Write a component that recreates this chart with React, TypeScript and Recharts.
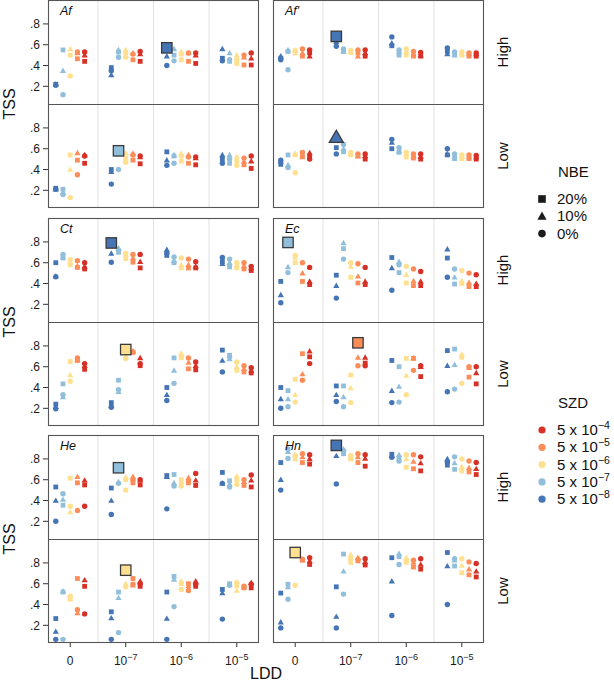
import React from 'react';
import { ScatterChart, Scatter, XAxis, YAxis, ReferenceLine } from 'recharts';

// SZD colours, from 5 x 10^-8 (blue) up to 5 x 10^-4 (red)
const SZD_COLORS = ['#4575b4', '#91bfdb', '#fee090', '#fc8d59', '#d73027'];
const SZD_EXP = ['−8', '−7', '−6', '−5', '−4'];
const NBE_LABELS = ['20%', '10%', '0%'];
const LDD_BASE = ['0', '10', '10', '10'];
const LDD_EXP = ['', '−7', '−6', '−5'];
const TSS_TICKS = [0.2, 0.4, 0.6, 0.8];
const PRESSURE = ['High', 'Low'];

// each grid: rows = LDD (0, 1e-7, 1e-6, 1e-5), cols = SZD (5e-8 .. 5e-4)
// Sq = NBE 20%, Tri = NBE 10%, Ci = NBE 0%
const afHighSq = [[0.22, 0.55, 0.5, 0.465, 0.44], [0.38, 0.53, 0.52, 0.455, 0.44], [0.57, 0.5, 0.455, 0.44, 0.42], [0.47, 0.44, 0.42, 0.405, 0.405]];
const afHighTri = [[0.22, 0.35, 0.56, 0.52, 0.5], [0.31, 0.55, 0.55, 0.52, 0.51], [0.49, 0.56, 0.535, 0.52, 0.5], [0.56, 0.52, 0.5, 0.48, 0.47]];
const afHighCi = [[0.21, 0.12, 0.3, 0.53, 0.53], [0.35, 0.48, 0.48, 0.51, 0.535], [0.4, 0.445, 0.51, 0.52, 0.52], [0.445, 0.455, 0.455, 0.5, 0.52]];
const afLowSq = [[0.22, 0.21, 0.54, 0.49, 0.46], [0.4, 0.58, 0.51, 0.49, 0.455], [0.57, 0.53, 0.48, 0.46, 0.445], [0.5, 0.46, 0.48, 0.445, 0.41]];
const afLowTri = [[0.21, 0.18, 0.4, 0.56, 0.54], [0.38, 0.55, 0.56, 0.555, 0.52], [0.49, 0.54, 0.555, 0.54, 0.51], [0.54, 0.54, 0.525, 0.48, 0.48]];
const afLowCi = [[0.21, 0.16, 0.13, 0.35, 0.53], [0.26, 0.4, 0.47, 0.54, 0.53], [0.44, 0.46, 0.53, 0.52, 0.52], [0.46, 0.5, 0.44, 0.51, 0.53]];

const afpHighSq = [[0.47, 0.535, 0.52, 0.49, 0.52], [0.68, 0.535, 0.525, 0.52, 0.49], [0.59, 0.5, 0.5, 0.49, 0.49], [0.535, 0.51, 0.5, 0.49, 0.49]];
const afpHighTri = [[0.49, 0.55, 0.545, 0.52, 0.49], [0.63, 0.535, 0.535, 0.49, 0.52], [0.615, 0.535, 0.535, 0.51, 0.5], [0.51, 0.5, 0.51, 0.51, 0.51]];
const afpHighCi = [[0.455, 0.36, 0.545, 0.56, 0.55], [0.585, 0.56, 0.545, 0.55, 0.55], [0.675, 0.55, 0.56, 0.535, 0.525], [0.57, 0.53, 0.53, 0.52, 0.52]];
const afpLowSq = [[0.45, 0.54, 0.54, 0.53, 0.53], [0.61, 0.57, 0.54, 0.53, 0.5], [0.6, 0.565, 0.52, 0.51, 0.5], [0.54, 0.505, 0.505, 0.505, 0.5]];
const afpLowTri = [[0.48, 0.445, 0.555, 0.52, 0.56], [0.71, 0.6, 0.555, 0.53, 0.53], [0.66, 0.58, 0.55, 0.53, 0.525], [0.55, 0.53, 0.525, 0.52, 0.52]];
const afpLowCi = [[0.49, 0.42, 0.37, 0.565, 0.5], [0.55, 0.64, 0.565, 0.55, 0.55], [0.69, 0.61, 0.565, 0.55, 0.55], [0.6, 0.55, 0.54, 0.54, 0.535]];

const ctHighSq = [[0.6, 0.645, 0.58, 0.555, 0.54], [0.79, 0.7, 0.64, 0.605, 0.55], [0.67, 0.6, 0.55, 0.55, 0.55], [0.61, 0.56, 0.55, 0.54, 0.525]];
const ctHighTri = [[0.47, 0.66, 0.61, 0.57, 0.565], [0.69, 0.74, 0.68, 0.645, 0.61], [0.725, 0.62, 0.58, 0.58, 0.565], [0.59, 0.6, 0.58, 0.57, 0.55]];
const ctHighCi = [[0.465, 0.68, 0.63, 0.62, 0.6], [0.605, 0.72, 0.69, 0.68, 0.68], [0.69, 0.655, 0.645, 0.635, 0.61], [0.65, 0.635, 0.6, 0.6, 0.565]];
const ctLowSq = [[0.24, 0.435, 0.65, 0.66, 0.575], [0.255, 0.47, 0.765, 0.74, 0.61], [0.4, 0.685, 0.685, 0.58, 0.57], [0.76, 0.71, 0.565, 0.55, 0.54]];
const ctLowTri = [[0.215, 0.31, 0.52, 0.67, 0.61], [0.23, 0.36, 0.7, 0.75, 0.685], [0.33, 0.565, 0.73, 0.64, 0.61], [0.66, 0.675, 0.6, 0.58, 0.565]];
const ctLowCi = [[0.195, 0.33, 0.46, 0.685, 0.63], [0.21, 0.38, 0.68, 0.74, 0.63], [0.275, 0.44, 0.7, 0.685, 0.645], [0.55, 0.695, 0.645, 0.61, 0.59]];

const ecHighSq = [[0.42, 0.795, 0.6, 0.42, 0.39], [0.48, 0.735, 0.46, 0.405, 0.39], [0.65, 0.505, 0.405, 0.38, 0.38], [0.645, 0.395, 0.4, 0.37, 0.37]];
const ecHighTri = [[0.29, 0.56, 0.65, 0.5, 0.42], [0.38, 0.79, 0.565, 0.47, 0.42], [0.55, 0.61, 0.485, 0.425, 0.42], [0.73, 0.46, 0.425, 0.41, 0.4]];
const ecHighCi = [[0.215, 0.505, 0.67, 0.6, 0.555], [0.26, 0.635, 0.6, 0.59, 0.555], [0.335, 0.58, 0.565, 0.54, 0.515], [0.46, 0.54, 0.525, 0.5, 0.485]];
const ecLowSq = [[0.4, 0.37, 0.48, 0.725, 0.695], [0.415, 0.415, 0.52, 0.83, 0.635], [0.66, 0.6, 0.68, 0.68, 0.505], [0.755, 0.77, 0.69, 0.5, 0.435]];
const ecLowTri = [[0.29, 0.29, 0.33, 0.53, 0.75], [0.33, 0.31, 0.395, 0.69, 0.69], [0.37, 0.41, 0.515, 0.685, 0.6], [0.61, 0.62, 0.72, 0.59, 0.54]];
const ecLowCi = [[0.2, 0.215, 0.26, 0.47, 0.63], [0.265, 0.215, 0.255, 0.61, 0.61], [0.255, 0.26, 0.33, 0.565, 0.61], [0.36, 0.385, 0.44, 0.6, 0.6]];

const heHighSq = [[0.53, 0.355, 0.615, 0.57, 0.55], [0.52, 0.715, 0.6, 0.57, 0.55], [0.64, 0.65, 0.6, 0.57, 0.545], [0.67, 0.59, 0.6, 0.545, 0.53]];
const heHighTri = [[0.4, 0.41, 0.29, 0.63, 0.595], [0.4, 0.58, 0.625, 0.63, 0.595], [0.63, 0.57, 0.58, 0.62, 0.595], [0.565, 0.56, 0.635, 0.58, 0.595]];
const heHighCi = [[0.2, 0.465, 0.345, 0.305, 0.345], [0.265, 0.565, 0.5, 0.6, 0.6], [0.32, 0.54, 0.54, 0.585, 0.66], [0.565, 0.53, 0.555, 0.6, 0.645]];
const heLowSq = [[0.265, 0.52, 0.465, 0.65, 0.575], [0.33, 0.52, 0.73, 0.65, 0.575], [0.52, 0.67, 0.6, 0.6, 0.575], [0.545, 0.6, 0.58, 0.56, 0.56]];
const heLowTri = [[0.14, 0.53, 0.45, 0.32, 0.635], [0.27, 0.465, 0.6, 0.585, 0.625], [0.265, 0.64, 0.625, 0.58, 0.625], [0.51, 0.59, 0.535, 0.57, 0.61]];
const heLowCi = [[0.065, 0.065, 0.48, 0.35, 0.31], [0.065, 0.13, 0.57, 0.595, 0.6], [0.065, 0.38, 0.545, 0.535, 0.595], [0.26, 0.585, 0.61, 0.575, 0.595]];

const hnHighSq = [[0.765, 0.895, 0.8, 0.765, 0.75], [0.93, 0.85, 0.8, 0.765, 0.73], [0.845, 0.81, 0.72, 0.705, 0.685], [0.74, 0.7, 0.685, 0.675, 0.65]];
const hnHighTri = [[0.6, 0.87, 0.845, 0.82, 0.8], [0.83, 0.895, 0.815, 0.82, 0.805], [0.83, 0.84, 0.8, 0.775, 0.76], [0.8, 0.76, 0.725, 0.715, 0.705]];
const hnHighCi = [[0.5, 0.805, 0.83, 0.85, 0.84], [0.56, 0.88, 0.83, 0.85, 0.84], [0.815, 0.78, 0.84, 0.84, 0.82], [0.77, 0.82, 0.8, 0.78, 0.765]];
const hnLowSq = [[0.51, 0.595, 0.9, 0.825, 0.785], [0.57, 0.885, 0.805, 0.82, 0.78], [0.85, 0.86, 0.805, 0.76, 0.74], [0.9, 0.77, 0.705, 0.685, 0.665]];
const hnLowTri = [[0.23, 0.57, 0.87, 0.83, 0.82], [0.285, 0.72, 0.88, 0.85, 0.81], [0.625, 0.89, 0.85, 0.805, 0.785], [0.77, 0.825, 0.775, 0.74, 0.72]];
const hnLowCi = [[0.175, 0.45, 0.585, 0.835, 0.85], [0.175, 0.5, 0.835, 0.83, 0.84], [0.295, 0.785, 0.82, 0.825, 0.84], [0.4, 0.84, 0.84, 0.81, 0.795]];

// best combination per panel: [nbe, ldd, szd]
const BEST = {
  afHigh: [0, 2, 0], afLow: [0, 1, 1],
  afpHigh: [0, 1, 0], afpLow: [1, 1, 0],
  ctHigh: [0, 1, 0], ctLow: [0, 1, 2],
  ecHigh: [0, 0, 1], ecLow: [0, 1, 3],
  heHigh: [0, 1, 1], heLow: [0, 1, 2],
  hnHigh: [0, 1, 0], hnLow: [0, 0, 2],
};

const SPECIES = [
  { name: 'Af', col: 0, row: 0, grids: [[afHighSq, afHighTri, afHighCi], [afLowSq, afLowTri, afLowCi]], best: [BEST.afHigh, BEST.afLow] },
  { name: "Af'", col: 1, row: 0, grids: [[afpHighSq, afpHighTri, afpHighCi], [afpLowSq, afpLowTri, afpLowCi]], best: [BEST.afpHigh, BEST.afpLow] },
  { name: 'Ct', col: 0, row: 1, grids: [[ctHighSq, ctHighTri, ctHighCi], [ctLowSq, ctLowTri, ctLowCi]], best: [BEST.ctHigh, BEST.ctLow] },
  { name: 'Ec', col: 1, row: 1, grids: [[ecHighSq, ecHighTri, ecHighCi], [ecLowSq, ecLowTri, ecLowCi]], best: [BEST.ecHigh, BEST.ecLow] },
  { name: 'He', col: 0, row: 2, grids: [[heHighSq, heHighTri, heHighCi], [heLowSq, heLowTri, heLowCi]], best: [BEST.heHigh, BEST.heLow] },
  { name: 'Hn', col: 1, row: 2, grids: [[hnHighSq, hnHighTri, hnHighCi], [hnLowSq, hnLowTri, hnLowCi]], best: [BEST.hnHigh, BEST.hnLow] },
];

const FONT = '"Liberation Sans", Arial, Helvetica, sans-serif';
const COL_LEFT = [48, 273];
const ROW_TOP = [0, 218, 435];
const PLOT_W = 211;
const PLOT_H = 104;
const Y_AXIS_W = 48;
const X_AXIS_H = 34;
const X_DOMAIN = [0.6, 4.4];
const Y_DOMAIN = [0.03, 1.03];
const DODGE = 0.13;

const Mark = ({ cx, cy, fill, kind, big }: any) => {
  if (cx == null || cy == null) return null;
  const stroke = big ? '#3a3a3a' : 'none';
  const sw = big ? 1.3 : 0;
  if (kind === 0) {
    const r = big ? 5.2 : 2.4;
    return <rect x={cx - r} y={cy - r} width={2 * r} height={2 * r} fill={fill} stroke={stroke} strokeWidth={sw} />;
  }
  if (kind === 1) {
    const r = big ? 7 : 3.1;
    const h = r * 0.87;
    return <polygon points={`${cx},${cy - h * 1.15} ${cx - r},${cy + h * 0.85} ${cx + r},${cy + h * 0.85}`} fill={fill} stroke={stroke} strokeWidth={sw} />;
  }
  return <circle cx={cx} cy={cy} r={big ? 5.2 : 2.7} fill={fill} stroke={stroke} strokeWidth={sw} />;
};

const LddTick = ({ x, y, payload }: any) => {
  const i = Math.round(payload.value) - 1;
  return (
    <text x={x} y={y + 16} textAnchor="middle" fontSize={12} fill="#1a1a1a" fontFamily={FONT}>
      <tspan>{LDD_BASE[i]}</tspan>
      {LDD_EXP[i] && <tspan dy={-5} fontSize={9}>{LDD_EXP[i]}</tspan>}
    </text>
  );
};

const Panel = ({ grids, best, left, top, first, bottom }: any) => {
  const series = grids.map((grid: number[][]) =>
    grid.flatMap((row, l) => row.map((v, s) => ({ x: l + 1 + (s - 2) * DODGE, y: v, s })))
  );
  const [bn, bl, bs] = best;
  const bestPt = [{ x: bl + 1 + (bs - 2) * DODGE, y: grids[bn][bl][bs], s: bs }];
  return (
    <div style={{ position: 'absolute', left: first ? left - Y_AXIS_W : left, top }}>
      <ScatterChart
        width={(first ? Y_AXIS_W : 0) + PLOT_W}
        height={PLOT_H + (bottom ? X_AXIS_H : 0)}
        margin={{ top: 0, right: 0, bottom: 0, left: 0 }}
      >
        <XAxis
          type="number"
          dataKey="x"
          domain={X_DOMAIN}
          ticks={[1, 2, 3, 4]}
          interval={0}
          allowDataOverflow
          hide={!bottom}
          height={X_AXIS_H}
          axisLine={false}
          tickLine={{ stroke: '#333' }}
          tickSize={4}
          tick={(p: any) => <LddTick {...p} />}
        />
        <YAxis
          type="number"
          dataKey="y"
          domain={Y_DOMAIN}
          ticks={TSS_TICKS}
          allowDataOverflow
          hide={!first}
          width={Y_AXIS_W}
          axisLine={false}
          tickLine={{ stroke: '#333' }}
          tickSize={5}
          tickMargin={3}
          tickFormatter={(v: number) => '.' + Math.round(v * 10)}
          tick={{ fontSize: 12, fill: '#1a1a1a', fontFamily: FONT }}
        />
        {[1.5, 2.5, 3.5].map((v) => (
          <ReferenceLine key={v} x={v} stroke="#e2e2e2" strokeWidth={1} />
        ))}
        {series.map((d: any[], n: number) => (
          <Scatter
            key={n}
            data={d}
            isAnimationActive={false}
            shape={(p: any) => <Mark cx={p.cx} cy={p.cy} fill={SZD_COLORS[p.payload.s]} kind={n} />}
          />
        ))}
        <Scatter
          data={bestPt}
          isAnimationActive={false}
          shape={(p: any) => <Mark cx={p.cx} cy={p.cy} fill={SZD_COLORS[p.payload.s]} kind={bn} big />}
        />
      </ScatterChart>
    </div>
  );
};

const LegendShape = ({ kind, x, y }: any) => {
  if (kind === 0) return <rect x={x - 3.8} y={y - 3.8} width={7.6} height={7.6} fill="#1a1a1a" />;
  if (kind === 1) return <polygon points={`${x},${y - 4.8} ${x - 4.6},${y + 3.4} ${x + 4.6},${y + 3.4}`} fill="#1a1a1a" />;
  return <circle cx={x} cy={y} r={3.8} fill="#1a1a1a" />;
};

export default function App() {
  const nbeTop = 172;
  const szdTop = 403;
  return (
    <div style={{ position: 'absolute', left: 0, top: 0, width: 614, height: 682, background: '#fff', fontFamily: FONT }}>
      {SPECIES.map((sp) =>
        [0, 1].map((r) => (
          <Panel
            key={sp.name + r}
            grids={sp.grids[r]}
            best={sp.best[r]}
            left={COL_LEFT[sp.col]}
            top={ROW_TOP[sp.row] + r * PLOT_H}
            first={sp.col === 0}
            bottom={sp.row === 2 && r === 1}
          />
        ))
      )}
      <svg width={614} height={682} style={{ position: 'absolute', left: 0, top: 0, pointerEvents: 'none' }} fontFamily={FONT}>
        {SPECIES.map((sp) => {
          const x = COL_LEFT[sp.col];
          const y = ROW_TOP[sp.row];
          return (
            <g key={sp.name}>
              <rect x={x + 0.5} y={y + 0.5} width={PLOT_W - 1} height={PLOT_H * 2 - 1} fill="none" stroke="#555" strokeWidth={1.1} />
              <line x1={x} x2={x + PLOT_W} y1={y + PLOT_H + 0.5} y2={y + PLOT_H + 0.5} stroke="#555" strokeWidth={1.1} />
              <text x={x + 12} y={y + 15} fontSize={12.5} fontStyle="italic" fill="#111">{sp.name}</text>
            </g>
          );
        })}
        {ROW_TOP.map((y) => (
          <g key={y}>
            <text transform={`translate(9, ${y + PLOT_H}) rotate(-90)`} dy="0.36em" textAnchor="middle" fontSize={16} fill="#111">TSS</text>
            {PRESSURE.map((lab, r) => (
              <text key={lab} transform={`translate(503, ${y + PLOT_H * r + PLOT_H / 2}) rotate(-90)`} dy="0.36em" textAnchor="middle" fontSize={15} fill="#111">{lab}</text>
            ))}
          </g>
        ))}
        <text x={266} y={679} textAnchor="middle" fontSize={16} fill="#111">LDD</text>

        <text x={558} y={nbeTop + 5} fontSize={15} fill="#111">NBE</text>
        {NBE_LABELS.map((lab, i) => (
          <g key={lab}>
            <LegendShape kind={i} x={542} y={nbeTop + 27 + i * 17.3} />
            <text x={557} y={nbeTop + 27 + i * 17.3 + 5} fontSize={15} fill="#111">{lab}</text>
          </g>
        ))}

        <text x={558} y={szdTop + 5} fontSize={15} fill="#111">SZD</text>
        {[4, 3, 2, 1, 0].map((s, i) => (
          <g key={s}>
            <circle cx={542} cy={szdTop + 27 + i * 17.3} r={3.6} fill={SZD_COLORS[s]} />
            <text x={557} y={szdTop + 27 + i * 17.3 + 5} fontSize={15} fill="#111">
              <tspan>5 x 10</tspan>
              <tspan dy={-6} fontSize={10.5}>{SZD_EXP[s]}</tspan>
            </text>
          </g>
        ))}
      </svg>
    </div>
  );
}
